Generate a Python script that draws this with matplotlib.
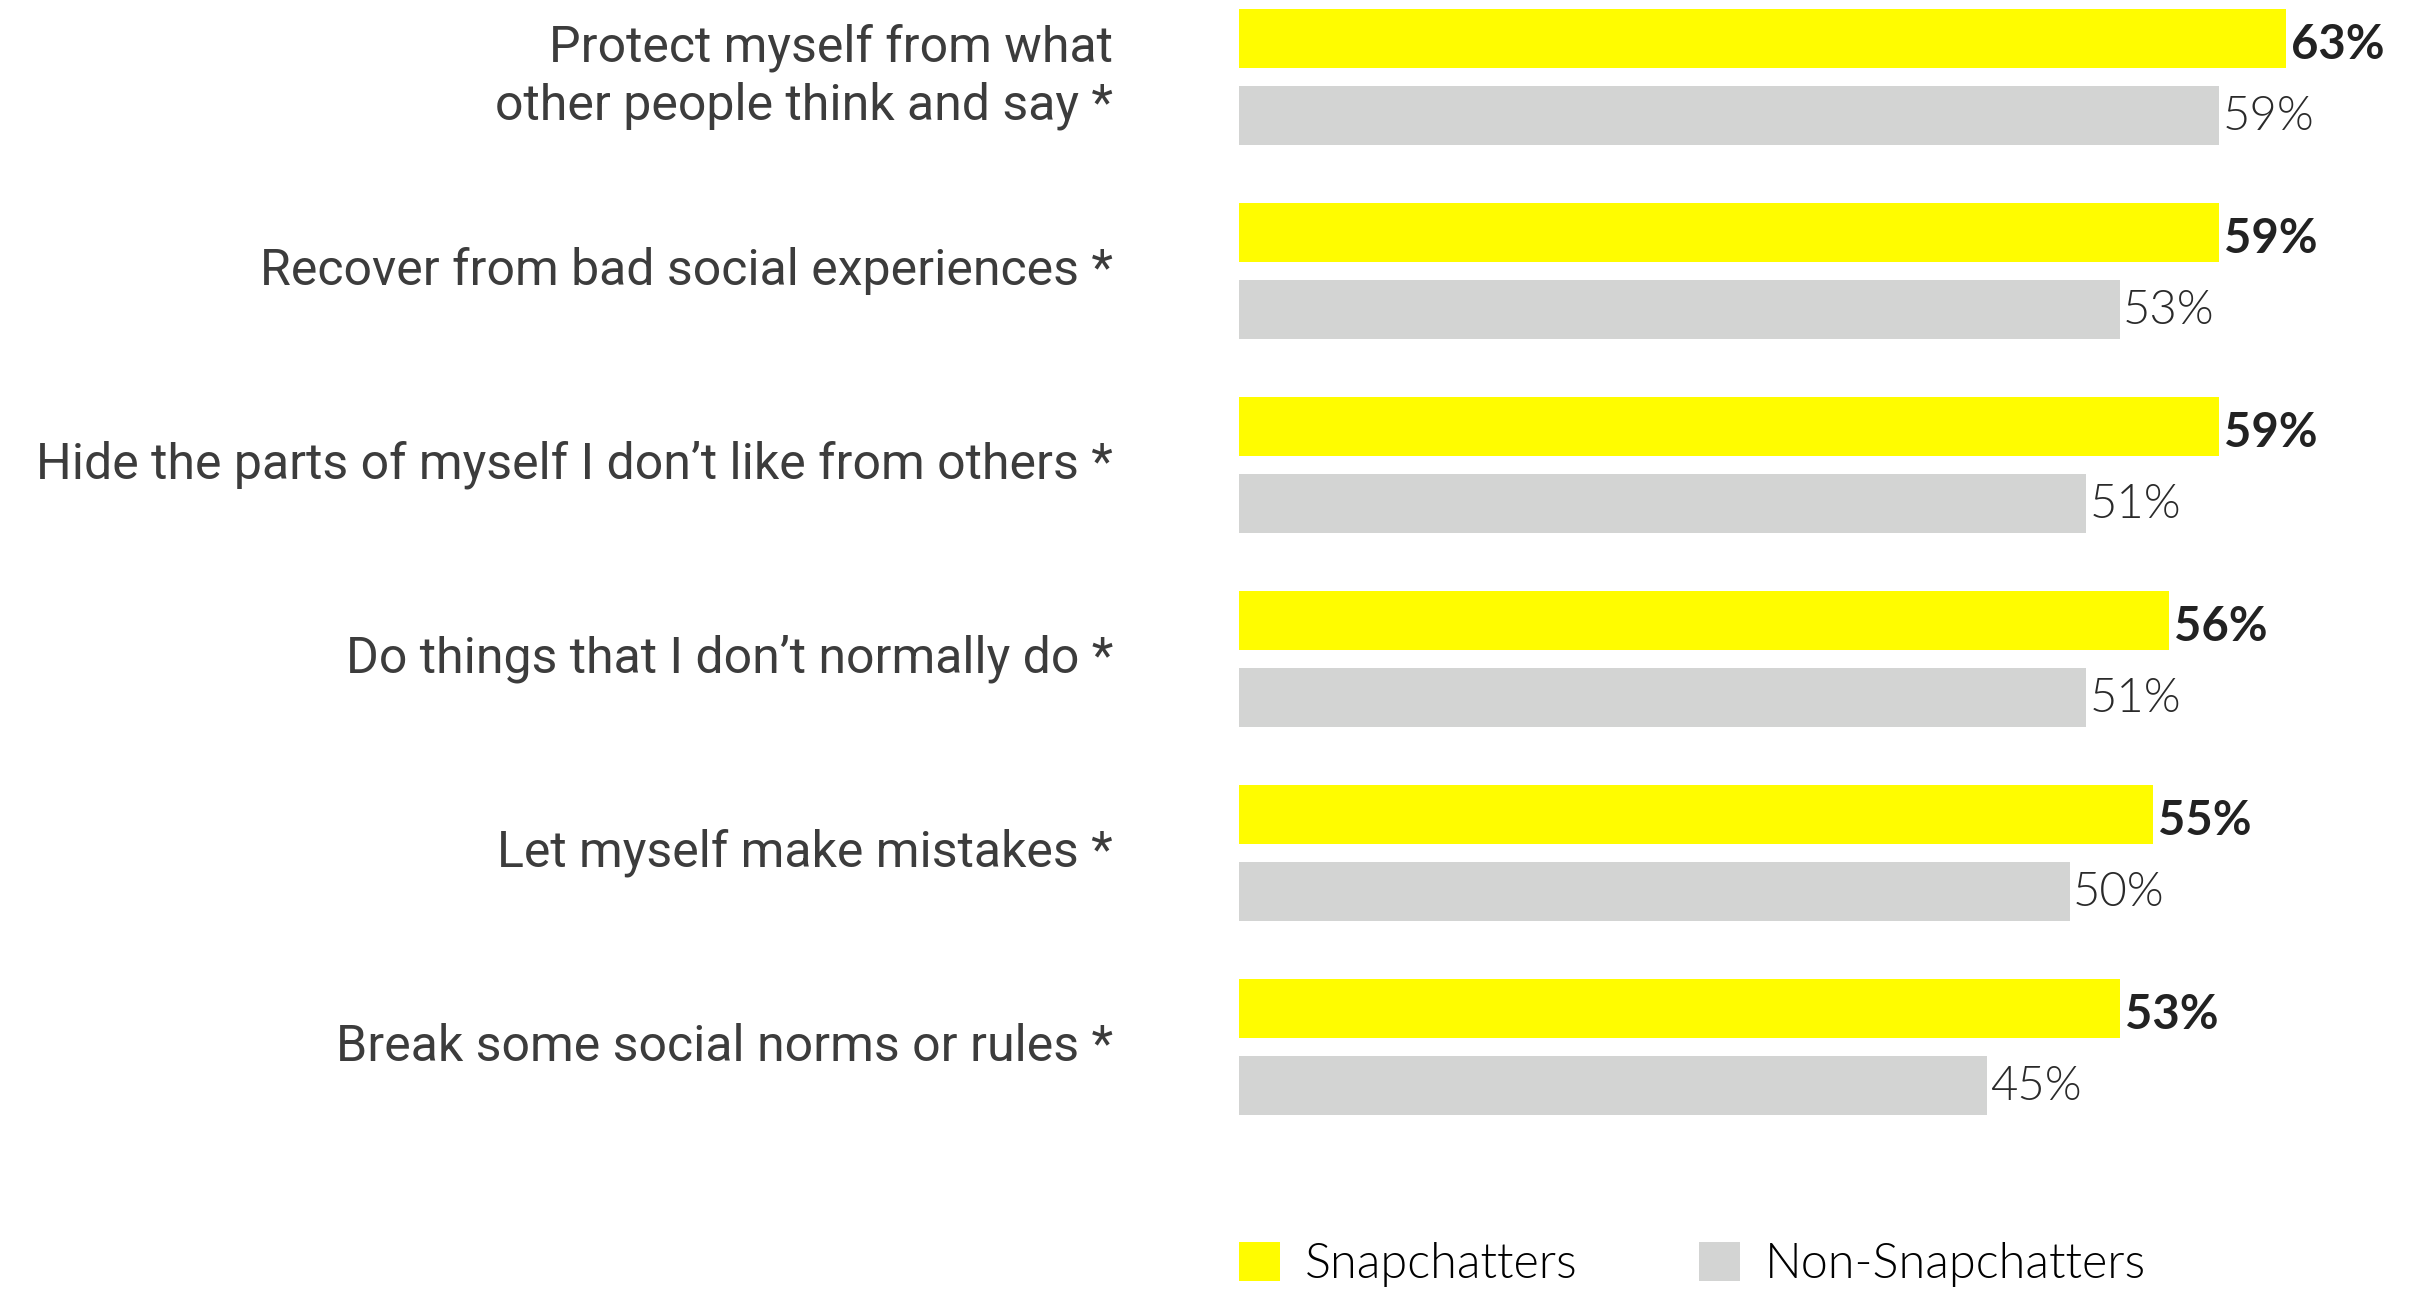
import matplotlib.pyplot as plt

plt.rcParams['font.family'] = ['Lato', 'DejaVu Sans']

categories = [
    "Protect myself from what\nother people think and say *",
    "Recover from bad social experiences *",
    "Hide the parts of myself I don\u2019t like from others *",
    "Do things that I don\u2019t normally do *",
    "Let myself make mistakes *",
    "Break some social norms or rules *",
]
snapchatters = [63, 59, 59, 56, 55, 53]
non_snapchatters = [59, 53, 51, 51, 50, 45]
series_names = ["Snapchatters", "Non-Snapchatters"]

yellow = "#FFFC00"
grey = "#D3D4D3"

W, H = 2414, 1291
fig = plt.figure(figsize=(W / 100, H / 100), dpi=100)
ax = fig.add_axes([1239 / W, 0, 1163 / W, 1])

# one unit on y = one group (194 px)
ys = [0.198 + i for i in range(len(categories))]
yg = [0.595 + i for i in range(len(categories))]
bh = 0.304

b1 = ax.barh(ys, snapchatters, height=bh, color=yellow, label=series_names[0])
b2 = ax.barh(yg, non_snapchatters, height=bh, color=grey, label=series_names[1])

for y, v in zip(ys, snapchatters):
    ax.text(v + 0.3, y + 0.106, f"{v}%", va="baseline", ha="left", fontsize=34,
            fontweight="bold", color="#222222")
for y, v in zip(yg, non_snapchatters):
    ax.text(v + 0.2, y + 0.077, f"{v}%", va="baseline", ha="left", fontsize=34,
            fontweight=300, color="#2a2a2a")

for i, cat in enumerate(categories):
    ax.text(-126 / 16.62, 0.397 + i, cat, ha="right", va="center", fontsize=36,
            family="Roboto", color="#3c3c3c", linespacing=1.25)

ax.set_xlim(0, 70)
ax.set_ylim(H / 194, 0)
ax.axis("off")

fig.legend(handles=[b1, b2], loc="lower left", bbox_to_anchor=(1239 / W, 0.003),
           ncol=2, frameon=False, handlelength=0.85, handleheight=0.85,
           handletextpad=0.5, columnspacing=2.5, borderpad=0, borderaxespad=0,
           prop={"weight": 300, "size": 35})

fig.savefig("out.png", dpi=100)
